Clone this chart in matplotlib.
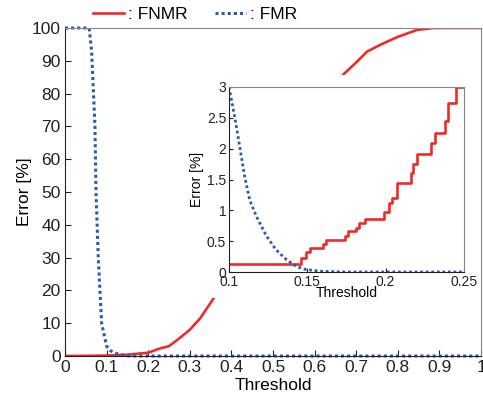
import numpy as np
import matplotlib.pyplot as plt
from matplotlib.patches import Rectangle

plt.rcParams['font.family'] = ['Liberation Sans', 'DejaVu Sans']

# main curves (threshold, error %)
fnmr_x = [0.0, 0.05, 0.1, 0.15, 0.2, 0.228, 0.25, 0.272, 0.3, 0.325, 0.36, 0.4, 0.45, 0.5,
          0.55, 0.6, 0.65, 0.668, 0.7, 0.726, 0.76, 0.8, 0.846, 0.885, 0.93, 1.0]
fnmr_y = [0.0, 0.05, 0.13, 0.4, 1.0, 2.3, 3.0, 5.1, 8.0, 11.5, 18.1, 26, 37, 50,
          62, 72, 81, 85.7, 89.5, 92.8, 95.0, 97.3, 99.4, 100, 100, 100]
fmr_x = [0.0, 0.058, 0.064, 0.072, 0.0745, 0.08, 0.088, 0.1, 0.11, 0.12, 0.132, 0.15, 0.175, 1.0]
fmr_y = [100, 100, 93, 70, 50, 30, 10, 3.0, 1.55, 0.9, 0.45, 0.04, 0.0, 0.0]

# zoomed region (steps)
zf_x = [0.1, 0.144, 0.146, 0.149, 0.152, 0.16, 0.162, 0.172, 0.174, 0.176, 0.181, 0.183,
        0.187, 0.198, 0.199, 0.202, 0.204, 0.207, 0.214, 0.216, 0.2176, 0.22, 0.2285,
        0.229, 0.2315, 0.237, 0.238, 0.24, 0.243, 0.245, 0.25]
zf_y = [0.13, 0.13, 0.22, 0.32, 0.39, 0.45, 0.52, 0.52, 0.59, 0.66, 0.72, 0.79,
        0.86, 0.86, 0.98, 1.12, 1.2, 1.45, 1.45, 1.6, 1.75, 1.92, 1.92,
        2.1, 2.26, 2.26, 2.45, 2.74, 2.74, 3.0, 3.2]
zm_x = [0.1, 0.1036, 0.1068, 0.11, 0.1132, 0.1175, 0.124, 0.13, 0.1367, 0.143, 0.149, 0.16, 0.175, 0.25]
zm_y = [3.0, 2.52, 2.04, 1.55, 1.17, 0.90, 0.58, 0.36, 0.2, 0.09, 0.04, 0.01, 0.0, 0.0]

red = '#EE2A2A'
blue = '#2A5AAE'
W, H = 483, 396

fig = plt.figure(figsize=(4.83, 3.96), dpi=100)
ax = fig.add_axes([65/W, 1 - 356/H, 416/W, 328/H])
ax.plot(fnmr_x, fnmr_y, color=red, lw=1.9, label=': FNMR')
ax.plot(fmr_x, fmr_y, color=blue, lw=2.2, ls=(0, (1, 1)), label=': FMR', clip_on=False)
ax.set_xlim(0, 1)
ax.set_ylim(0, 100)
ax.set_xticks(np.arange(0, 1.01, 0.1))
ax.set_xticklabels(['0', '0.1', '0.2', '0.3', '0.4', '0.5', '0.6', '0.7', '0.8', '0.9', '1'])
ax.set_yticks(np.arange(0, 101, 10))
ax.tick_params(direction='in', length=4, labelsize=12.5, colors='#222222', pad=3)
ax.set_xlabel('Threshold', fontsize=12.5, labelpad=2)
ax.set_ylabel('Error [%]', fontsize=12.5, labelpad=0)
for s in ['left', 'bottom']:
    ax.spines[s].set_color('#222222')
for s in ['top', 'right']:
    ax.spines[s].set_color('#888888')
fig.legend(*ax.get_legend_handles_labels(), loc='center left',
           bbox_to_anchor=(93/W, 1 - 14/H), ncol=2, frameon=False,
           fontsize=12.5, handlelength=1.8, columnspacing=1.6, handletextpad=0.2,
           borderpad=0, borderaxespad=0)

# white background behind the inset and its labels
fig.add_artist(Rectangle((192/W, 1 - 298/H), 280/W, 223/H, transform=fig.transFigure,
                         facecolor='white', edgecolor='none', zorder=0.5))

ins = fig.add_axes([229/W, 1 - 272/H, 235/W, 185/H])
ins.set_zorder(1)
ins.plot(zf_x, zf_y, color=red, lw=1.9, drawstyle='steps-post')
ins.plot(zm_x, zm_y, color=blue, lw=2.0, ls=(0, (1, 1)))
ins.set_xlim(0.1, 0.25)
ins.set_ylim(0, 3)
ins.set_xticks([0.1, 0.15, 0.2, 0.25])
ins.set_xticklabels(['0.1', '0.15', '0.2', '0.25'])
ins.set_yticks([0, 0.5, 1, 1.5, 2, 2.5, 3])
ins.set_yticklabels(['0', '0.5', '1', '1.5', '2', '2.5', '3'])
ins.tick_params(direction='in', length=3, labelsize=10, colors='#222222', pad=2)
ins.set_xlabel('Threshold', fontsize=10, labelpad=-2)
ins.set_ylabel('Error [%]', fontsize=10, labelpad=2)
for s in ['left', 'bottom']:
    ins.spines[s].set_color('#222222')
for s in ['top', 'right']:
    ins.spines[s].set_color('#888888')

fig.savefig('out.png', dpi=100)
